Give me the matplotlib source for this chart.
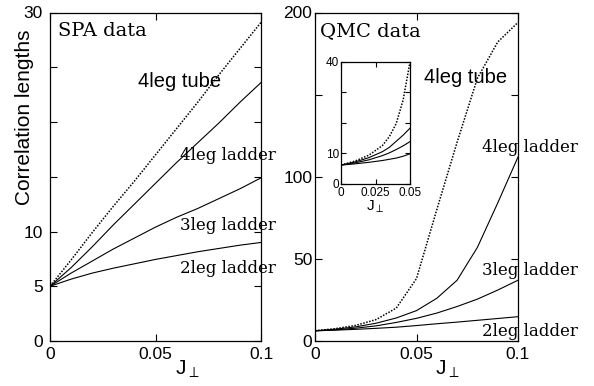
import matplotlib
matplotlib.use("Agg")
import matplotlib.pyplot as plt

# ---- data -------------------------------------------------------------
j_perp = [0.0, 0.01, 0.02, 0.03, 0.04, 0.05, 0.06, 0.07, 0.08, 0.09, 0.1]

# SPA correlation lengths
spa_tube = [5.0, 7.4, 9.9, 12.3, 14.6, 17.0, 19.4, 21.8, 24.3, 26.7, 29.1]
spa_4leg = [5.0, 6.7, 8.6, 10.6, 12.5, 14.4, 16.3, 18.1, 19.9, 21.8, 23.6]
spa_3leg = [5.0, 6.2, 7.3, 8.4, 9.4, 10.4, 11.3, 12.1, 13.0, 13.9, 14.9]
spa_2leg = [5.0, 5.65, 6.2, 6.65, 7.05, 7.45, 7.8, 8.15, 8.45, 8.75, 9.0]

# QMC correlation lengths
qmc_tube = [6.3, 7.5, 9.5, 13.0, 20.0, 38.0, 80.0, 121.0, 160.0, 182.0, 194.0]
qmc_4leg = [6.2, 7.2, 8.6, 10.8, 14.0, 18.5, 26.0, 37.0, 57.0, 84.0, 112.0]
qmc_3leg = [6.2, 6.8, 7.8, 9.2, 11.3, 13.8, 17.0, 21.0, 25.5, 31.0, 37.0]
qmc_2leg = [6.2, 6.6, 7.1, 7.7, 8.4, 9.4, 10.5, 11.5, 12.6, 13.7, 14.8]

# QMC, small-coupling region (inset)
j_small = [0.0, 0.01, 0.02, 0.03, 0.035, 0.04, 0.045, 0.05]
small_tube = [6.2, 7.5, 9.4, 12.6, 15.5, 19.8, 27.5, 40.0]
small_4leg = [6.2, 7.2, 8.6, 10.6, 12.0, 14.0, 16.0, 18.3]
small_3leg = [6.2, 6.9, 7.9, 9.3, 10.2, 11.3, 12.5, 13.9]
small_2leg = [6.2, 6.6, 7.1, 7.7, 8.1, 8.5, 9.1, 9.9]

x_ticks = [0, 0.05, 0.1]
x_ticklabels = ["0", "0.05", "0.1"]
spa_yticks = [0, 5, 10, 15, 20, 25, 30]
spa_yticklabels = ["0", "5", "10", "", "", "", "30"]
qmc_yticks = [0, 50, 100, 150, 200]
qmc_yticklabels = ["0", "50", "100", "", "200"]
inset_xticks = [0, 0.025, 0.05]
inset_xticklabels = ["0", "0.025", "0.05"]
inset_yticks = [0, 10, 20, 30, 40]
inset_yticklabels = ["0", "10", "", "", "40"]

# ---- styling ----------------------------------------------------------
SANS = "Liberation Sans"
SERIF = "DejaVu Serif"
plt.rcParams["font.family"] = SANS
plt.rcParams["mathtext.fontset"] = "custom"
plt.rcParams["mathtext.rm"] = SANS
plt.rcParams["mathtext.it"] = SANS

W, H = 594, 386
fig = plt.figure(figsize=(W / 100, H / 100), dpi=100)


def px_axes(left, top, right, bottom):
    return fig.add_axes([left / W, 1 - bottom / H, (right - left) / W, (bottom - top) / H])


ax1 = px_axes(50, 12.5, 261, 341)
ax2 = px_axes(315, 12.5, 518, 341)
axin = px_axes(341, 62, 410, 184)

dotted = (0, (1, 1))
solid_kw = dict(color="black", lw=0.8)
dot_kw = dict(color="black", lw=1.1, linestyle=dotted)


def style(ax, xlim, ylim, xt, xtl, yt, ytl, size, length, ypad, xpad):
    ax.set_xlim(*xlim)
    ax.set_ylim(*ylim)
    ax.set_xticks(xt)
    ax.set_xticklabels(xtl)
    ax.set_yticks(yt)
    ax.set_yticklabels(ytl)
    ax.tick_params(direction="in", top=True, right=True, length=length,
                   width=0.8, labelsize=size)
    ax.tick_params(axis="y", pad=ypad)
    ax.tick_params(axis="x", pad=xpad)
    for s in ax.spines.values():
        s.set_linewidth(0.9)


# ---- SPA panel --------------------------------------------------------
ax1.plot(j_perp, spa_tube, **dot_kw)
ax1.plot(j_perp, spa_4leg, **solid_kw)
ax1.plot(j_perp, spa_3leg, **solid_kw)
ax1.plot(j_perp, spa_2leg, **solid_kw)
style(ax1, (0, 0.1), (0, 30), x_ticks, x_ticklabels, spa_yticks, spa_yticklabels,
      12.5, 5, 5, 4)

ax1.text(0.0038, 27.85, "SPA data", family=SERIF, fontsize=14, va="baseline")
ax1.text(0.0417, 23.2, "4leg tube", family=SANS, fontsize=14.5, va="baseline")
ax1.text(0.0616, 16.5, "4leg ladder", family=SERIF, fontsize=12, va="baseline", clip_on=False)
ax1.text(0.0616, 10.1, "3leg ladder", family=SERIF, fontsize=12, va="baseline", clip_on=False)
ax1.text(0.0616, 6.2, "2leg ladder", family=SERIF, fontsize=12, va="baseline", clip_on=False)

# ---- QMC panel --------------------------------------------------------
ax2.plot(j_perp, qmc_tube, **dot_kw)
ax2.plot(j_perp, qmc_4leg, **solid_kw)
ax2.plot(j_perp, qmc_3leg, **solid_kw)
ax2.plot(j_perp, qmc_2leg, **solid_kw)
style(ax2, (0, 0.1), (0, 200), x_ticks, x_ticklabels, qmc_yticks, qmc_yticklabels,
      12.5, 5, 2, 4)

ax2.text(0.0025, 185.7, "QMC data", family=SERIF, fontsize=14, va="baseline")
ax2.text(0.0537, 156.9, "4leg tube", family=SANS, fontsize=14.5, va="baseline")
ax2.text(0.0823, 115.3, "4leg ladder", family=SERIF, fontsize=12, va="baseline", clip_on=False)
ax2.text(0.0823, 40.2, "3leg ladder", family=SERIF, fontsize=12, va="baseline", clip_on=False)
ax2.text(0.0823, 3.0, "2leg ladder", family=SERIF, fontsize=12, va="baseline", clip_on=False)

for ax in (ax1, ax2):
    ax.set_xlabel(r"$\mathrm{J}_{\perp}$", fontsize=15)
    ax.xaxis.set_label_coords(0.65, -0.055)

fig.text(25 / W, 1 - 117.5 / H, "Correlation lengths", rotation=90,
         ha="center", va="center", fontsize=15, family=SANS)

# ---- inset ------------------------------------------------------------
axin.set_facecolor("white")
axin.plot(j_small, small_tube, **dot_kw)
axin.plot(j_small, small_4leg, **solid_kw)
axin.plot(j_small, small_3leg, **solid_kw)
axin.plot(j_small, small_2leg, **solid_kw)
style(axin, (0, 0.05), (0, 40), inset_xticks, inset_xticklabels,
      inset_yticks, inset_yticklabels, 8.5, 3.5, 1.5, 2)
axin.set_xlabel(r"$\mathrm{J}_{\perp}$", fontsize=11, labelpad=0)

fig.savefig("out.png", dpi=100)
